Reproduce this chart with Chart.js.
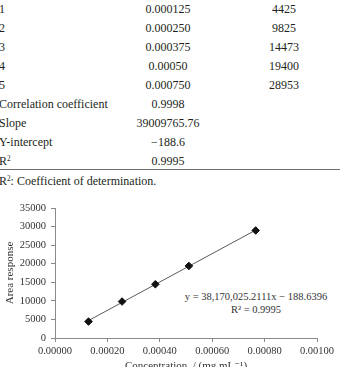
<!DOCTYPE html>
<html>
<head>
<meta charset="utf-8">
<script src="https://cdn.jsdelivr.net/npm/chart.js@4/dist/chart.umd.min.js"></script>
<style>
  html, body { margin: 0; padding: 0; background: #fff; }
  body { width: 340px; height: 367px; overflow: hidden; position: relative;
         font-family: "Liberation Serif", "DejaVu Serif", serif; color: #231f20; }
  .cell { position: absolute; font-size: 12px; line-height: 14px; white-space: nowrap; }
  .c1 { left: -1px; }
  .c2 { left: 108px; width: 120px; text-align: center; }
  .c3 { left: 234px; width: 100px; text-align: center; }
  #rule { position: absolute; left: 0; width: 340px; top: 169px; height: 0; border-top: 1.5px solid #6d6d6d; }
  #note { position: absolute; left: -1px; top: 174px; font-size: 12px; line-height: 14px; }
  #eq { position: absolute; left: 176px; width: 160px; top: 290px; text-align: center;
        font-size: 10.5px; line-height: 13px; color: #333; white-space: nowrap; }
  #chartBox { position: absolute; left: 0; top: 195px; width: 340px; height: 182px; }
  sup { font-size: 0.6em; line-height: 0; vertical-align: 0.6em; }
</style>
</head>
<body>
<div id="tbl"></div>
<div id="rule"></div>
<div id="note">R<sup>2</sup>: Coefficient of determination.</div>
<div id="eq"></div>
<div id="chartBox"><canvas id="c" width="340" height="182"></canvas></div>
<script>
// ---- table data ----
const rowLabels = ['1', '2', '3', '4', '5'];
const concTable = ['0.000125', '0.000250', '0.000375', '0.00050', '0.000750'];
const areaValues = [4425, 9825, 14473, 19400, 28953];
const statLabels = ['Correlation coefficient', 'Slope', 'Y-intercept', 'R<sup>2</sup>'];
const statValues = ['0.9998', '39009765.76', '\u2212188.6', '0.9995'];

// ---- chart data ----
const plotConc = [0.000128, 0.000256, 0.000383, 0.000511, 0.000766];
const trendCoef = [38170025.2111, -188.6396];   // slope, intercept of trendline
const eqLines = ['y = 38,170,025.2111x \u2212 188.6396', 'R\u00b2 = 0.9995'];
const xTitle = 'Concentration, / (mg mL\u207b\u00b9)';
const yTitle = 'Area response';

// build table
const tbl = document.getElementById('tbl');
const rowTop0 = 2, rowStep = 19;
function addCell(cls, html, row) {
  const d = document.createElement('div');
  d.className = 'cell ' + cls;
  d.style.top = (rowTop0 + row * rowStep) + 'px';
  d.innerHTML = html;
  tbl.appendChild(d);
}
rowLabels.forEach((l, i) => {
  addCell('c1', l, i);
  addCell('c2', concTable[i], i);
  addCell('c3', String(areaValues[i]), i);
});
statLabels.forEach((l, i) => {
  addCell('c1', l, rowLabels.length + i);
  addCell('c2', statValues[i], rowLabels.length + i);
});

document.getElementById('eq').innerHTML = eqLines.join('<br>');

// chart
const pts = plotConc.map((x, i) => ({ x: x, y: areaValues[i] }));
const xMin = Math.min(...plotConc), xMax = Math.max(...plotConc);
const trend = [xMin, xMax].map(x => ({ x: x, y: trendCoef[0] * x + trendCoef[1] }));

const serif = '"Liberation Serif", "DejaVu Serif", serif';
const axisColor = '#8a8a8a';
new Chart(document.getElementById('c'), {
  type: 'scatter',
  data: {
    datasets: [
      { type: 'line', data: trend, borderColor: '#5a5a5a', borderWidth: 1, pointRadius: 0, fill: false, order: 2 },
      { data: pts, pointStyle: 'rectRot', pointRadius: 3.8, backgroundColor: '#111', borderColor: '#111', borderWidth: 1, order: 1 }
    ]
  },
  options: {
    responsive: false,
    animation: false,
    events: [],
    layout: { padding: { top: 13, right: 23, left: 0, bottom: 0 } },
    plugins: { legend: { display: false }, tooltip: { enabled: false } },
    scales: {
      x: {
        type: 'linear', min: 0, max: 0.001,
        afterFit: s => { s.height = 39; },
        ticks: { stepSize: 0.0002, callback: v => Number(v).toFixed(5), autoSkip: false, maxRotation: 0,
                 font: { family: serif, size: 10.5 }, color: '#333', padding: 3 },
        grid: { drawOnChartArea: false, tickLength: 4, color: axisColor },
        border: { color: axisColor },
        title: { display: true, text: xTitle, font: { family: serif, size: 11 }, color: '#333', padding: { top: 0, bottom: 4 } }
      },
      y: {
        min: 0, max: 35000,
        afterFit: s => { s.width = 55; },
        ticks: { stepSize: 5000, font: { family: serif, size: 10.5 }, color: '#333', padding: 5,
                 callback: v => String(v) },
        grid: { drawOnChartArea: false, tickLength: 4, color: axisColor },
        border: { color: axisColor },
        title: { display: true, text: yTitle, font: { family: serif, size: 11 }, color: '#333', padding: { top: 4, bottom: 0 } }
      }
    }
  }
});
</script>
</body>
</html>
